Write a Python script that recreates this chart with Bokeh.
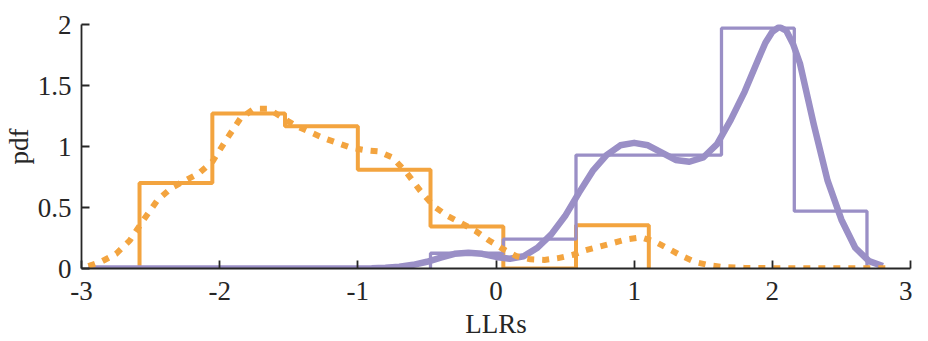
from bokeh.plotting import figure
from bokeh.embed import file_html
from bokeh.resources import INLINE
from bokeh.models import FixedTicker, Range1d

# ---- data ----
bin_edges = [-2.580, -2.053, -1.527, -1.000, -0.474, 0.053, 0.579, 1.106, 1.632, 2.159, 2.685]

orange_edges = bin_edges[0:8]
orange_heights = [0.70, 1.27, 1.165, 0.81, 0.345, 0.0, 0.355]

purple_edges = bin_edges[4:11]
purple_heights = [0.125, 0.24, 0.93, 0.93, 1.97, 0.47]

orange_kde_x = [-2.95, -2.85, -2.75, -2.65, -2.55, -2.45, -2.35, -2.25, -2.15, -2.05,
                -1.95, -1.85, -1.75, -1.65, -1.55, -1.45, -1.35, -1.25, -1.15, -1.05,
                -0.95, -0.85, -0.75, -0.65, -0.55, -0.45, -0.35, -0.25, -0.15, -0.05,
                0.05, 0.15, 0.25, 0.35, 0.45, 0.55, 0.65, 0.75, 0.85, 0.95,
                1.05, 1.15, 1.25, 1.35, 1.45, 1.55, 1.65, 1.80, 2.00, 2.40, 2.83]
orange_kde_y = [0.02, 0.06, 0.12, 0.23, 0.40, 0.56, 0.66, 0.72, 0.78, 0.88,
                1.06, 1.23, 1.31, 1.31, 1.24, 1.17, 1.12, 1.07, 1.03, 0.99,
                0.97, 0.96, 0.91, 0.79, 0.64, 0.51, 0.43, 0.37, 0.31, 0.23,
                0.16, 0.10, 0.075, 0.07, 0.085, 0.11, 0.15, 0.18, 0.21, 0.24,
                0.255, 0.22, 0.16, 0.10, 0.05, 0.025, 0.012, 0.005, 0.003, 0.003, 0.003]

purple_kde_x = [-2.95, -2.0, -1.2, -0.9, -0.8, -0.7, -0.6, -0.5, -0.4, -0.3,
                -0.2, -0.1, 0.0, 0.1, 0.2, 0.3, 0.4, 0.5, 0.6, 0.7,
                0.8, 0.9, 1.0, 1.1, 1.2, 1.3, 1.4, 1.5, 1.6, 1.7,
                1.8, 1.9, 1.95, 2.0, 2.05, 2.1, 2.15, 2.2, 2.3, 2.4,
                2.5, 2.6, 2.7, 2.8]
purple_kde_y = [0.0, 0.0, 0.0, 0.002, 0.006, 0.015, 0.03, 0.055, 0.09, 0.12,
                0.13, 0.12, 0.095, 0.08, 0.10, 0.17, 0.28, 0.43, 0.62, 0.80,
                0.93, 1.01, 1.03, 1.01, 0.95, 0.89, 0.875, 0.91, 1.02, 1.22,
                1.45, 1.72, 1.85, 1.94, 1.98, 1.95, 1.84, 1.68, 1.18, 0.72,
                0.40, 0.17, 0.06, 0.02]

x_ticks = [-3, -2, -1, 0, 1, 2, 3]
x_tick_labels = ["-3", "-2", "-1", "0", "1", "2", "3"]
y_ticks = [0, 0.5, 1, 1.5, 2]
y_tick_labels = ["0", "0.5", "1", "1.5", "2"]
x_title = "LLRs"
y_title = "pdf"

ORANGE = "#F3A43F"
PURPLE = "#9A8FC6"
INK = "#262626"
FONT = "Liberation Serif"


def stairs(edges, heights):
    xs = [edges[0]]
    ys = [0.0]
    for i, h in enumerate(heights):
        xs += [edges[i], edges[i + 1]]
        ys += [h, h]
    xs.append(edges[-1])
    ys.append(0.0)
    return xs, ys


p = figure(width=912, height=341, output_backend="svg", toolbar_location=None,
           x_range=Range1d(-3, 3), y_range=Range1d(0, 2),
           min_border_left=76, min_border_right=2, min_border_top=24, min_border_bottom=73)
p.outline_line_color = None
p.grid.visible = False
p.background_fill_color = "white"
p.border_fill_color = "white"

ox, oy = stairs(orange_edges, orange_heights)
px_, py_ = stairs(purple_edges, purple_heights)

p.line(ox, oy, line_color=ORANGE, line_width=4)
p.line(px_, py_, line_color=PURPLE, line_width=3.3)
p.line(purple_kde_x, purple_kde_y, line_color=PURPLE, line_width=6.5, line_join="round")
p.line(orange_kde_x, orange_kde_y, line_color=ORANGE, line_width=6, line_dash="7 8")

for ax in (p.xaxis[0], p.yaxis[0]):
    ax.axis_line_color = INK
    ax.axis_line_width = 1.8
    ax.major_tick_line_color = INK
    ax.major_tick_line_width = 1.8
    ax.major_tick_in = 8
    ax.major_tick_out = 0
    ax.minor_tick_line_color = None
    ax.major_label_text_font = FONT
    ax.major_label_text_font_size = "27px"
    ax.major_label_text_color = INK
    ax.axis_label_text_font = FONT
    ax.axis_label_text_font_size = "27px"
    ax.axis_label_text_font_style = "normal"
    ax.axis_label_text_color = INK

p.xaxis.ticker = FixedTicker(ticks=x_ticks)
p.xaxis.major_label_overrides = {t: l for t, l in zip(x_ticks, x_tick_labels)}
p.yaxis.ticker = FixedTicker(ticks=y_ticks)
p.yaxis.major_label_overrides = {t: l for t, l in zip(y_ticks, y_tick_labels)}

p.yaxis.axis_label = y_title
p.yaxis.major_label_standoff = 10
p.yaxis.axis_label_standoff = 1

p.xaxis.axis_label = x_title
p.xaxis.major_label_standoff = 13
p.xaxis.major_label_text_line_height = 0.6
p.xaxis.axis_label_text_line_height = 0.6
p.xaxis.axis_label_standoff = 6

open("out.html", "w").write(file_html(p, INLINE))
